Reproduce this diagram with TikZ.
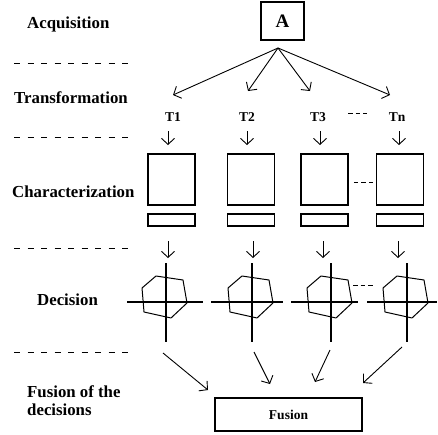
\documentclass[tikz,border=0pt]{standalone}
\usepackage{fontspec}
\setmainfont{Liberation Serif}
\usetikzlibrary{arrows.meta}

\tikzset{
  lbl/.style={anchor=base west, inner sep=0pt, font=\bfseries\fontsize{16.8}{18}\selectfont},
  tlbl/.style={anchor=base, inner sep=0pt, font=\bfseries\fontsize{13.5}{15}\selectfont},
  sep/.style={line width=0.9pt, dash pattern=on 6pt off 7.5pt},
  dots/.style={line width=0.9pt, dash pattern=on 4.5pt off 3pt},
  arr/.style={-{Straight Barb[length=6pt,width=13pt]}, line width=0.9pt},
  bigbox/.style={draw, line width=1.6pt, minimum width=47pt, minimum height=51pt, inner sep=0pt},
  smallbox/.style={draw, line width=1.6pt, minimum width=47pt, minimum height=12pt, inner sep=0pt},
  axis/.style={line width=1.2pt},
  poly/.style={line width=1pt, line join=round}
}

\begin{document}
\begin{tikzpicture}[x=1pt,y=-1pt]
\useasboundingbox (0,0) rectangle (438,434);

% names of the levels
\node[lbl] (acq) at (27,28) {Acquisition};
\node[lbl] (trans) at (14,103) {Transformation};
\node[lbl] (charac) at (12,197) {Characterization};
\node[lbl] (decis) at (37,305) {Decision};
\node[lbl] (fusof) at (27,397) {Fusion of the};
\node[lbl] (fusdec) at (27,415) {decisions};

% separators between levels
\foreach \y in {63,137,248,352}
  \draw[sep] (14,\y) -- (129,\y);

% acquisition
\node[draw, line width=1.6pt, minimum width=43pt, minimum height=38pt,
      font=\bfseries\fontsize{19}{21}\selectfont] (a) at (282.5,21) {A};
\coordinate (apex) at (278,48);
\foreach \i/\x/\y in {1/173/95, 2/248/91, 3/310/91, 4/390/95}
  {\coordinate (tr\i) at (\x,\y);
   \draw[arr] (apex) -- (tr\i);}

% transformations
\foreach \i/\x/\t in {1/173/T1, 2/247/T2, 3/318/T3, 4/397/Tn}
  \node[tlbl] (t\i) at (\x,121) {\t};
\draw[dots] (348,113) -- (367,113);
\foreach \i/\x in {1/168, 2/247, 3/320, 4/399}
  {\coordinate (ta\i) at (\x,131);
   \coordinate (tb\i) at (\x,145);
   \draw[arr] (ta\i) -- (tb\i);}

% characterization
\foreach \i/\x in {1/171.5, 2/251, 3/324.5, 4/400}
  {\node[bigbox] (car\i) at (\x,179.5) {};
   \node[smallbox] (vec\i) at (\x,220) {};}
\draw[dots] (car3.east |- 0,182) ++(5,0) -- ++(19,0);
\foreach \i/\x in {1/168, 2/253, 3/323, 4/398}
  {\coordinate (ca\i) at (\x,241);
   \coordinate (cb\i) at (\x,258);
   \draw[arr] (ca\i) -- (cb\i);}

% decisions
\foreach \i/\x/\l/\r in {1/166/39/37, 2/252/41/31, 3/331/40/27, 4/407/40/30}
  {\begin{scope}[shift={(\x,302)}]
     \draw[axis] (-\l,0) -- (\r,0);
     \draw[axis] (0,-39) -- (0,40);
     \draw[poly] (-24,-14) -- (-10,-26) -- (17,-22) -- (21,1) -- (5,16) -- (-22,10) -- cycle;
   \end{scope}}
\draw[dots] (353,285) -- (375,285);

% fusion of the decisions
\node[draw, line width=1.6pt, minimum width=147pt, minimum height=33pt,
      font=\bfseries\fontsize{13.5}{15}\selectfont] (fus) at (288.5,414.5) {Fusion};
\foreach \i/\xa/\ya/\xb/\yb in {1/163/353/208/390, 2/254/352/270/384, 3/330/350/315/382, 4/402/347/363/383}
  {\coordinate (fa\i) at (\xa,\ya);
   \coordinate (fb\i) at (\xb,\yb);
   \draw[arr] (fa\i) -- (fb\i);}

\end{tikzpicture}
\end{document}
